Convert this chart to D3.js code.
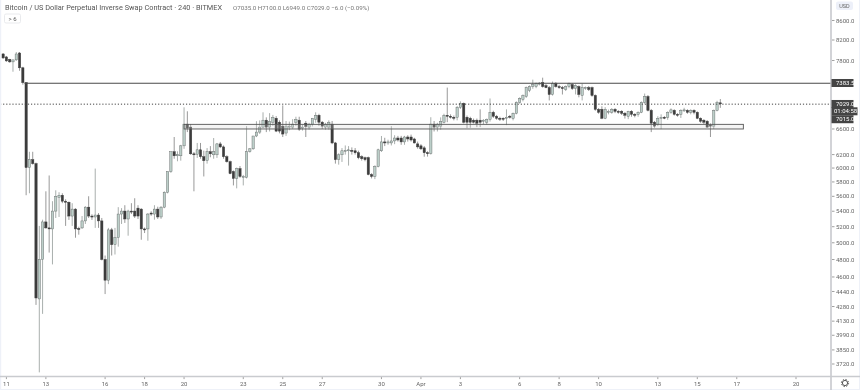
<!DOCTYPE html>
<html><head><meta charset="utf-8">
<script src="https://cdnjs.cloudflare.com/ajax/libs/d3/7.8.5/d3.min.js"></script>
<style>
html,body{margin:0;padding:0;background:#fff;overflow:hidden}
svg{display:block;filter:blur(.4px)}
text{font-family:Roboto,"Noto Sans",sans-serif}
</style></head><body>
<svg id="c" width="860" height="390"></svg>
<script>
const title="Bitcoin / US Dollar Perpetual Inverse Swap Contract · 240 · BITMEX";
const ohlcText="O7035.0  H7100.0  L6949.0  C7029.0  −6.0 (−0.09%)";
const opens=[7925,7868,7821,7774,7812,7944,7662,7390,6007,6124,
6065,4360,4801,5261,5185,5172,5402,5587,5615,5534,
5520,5337,5428,5178,5185,5274,5454,5337,5325,5350,
5274,4801,4564,5160,4977,5062,5363,5402,5299,5402,
5402,5441,5428,5172,5172,5376,5363,5428,5325,5454,
5656,5949,6243,6182,6182,6334,6678,6630,6212,6205,
6273,6168,6109,6243,6197,6197,6364,6318,6168,6094,
5949,5850,5992,5864,5864,6243,6288,6488,6550,6630,
6743,6630,6710,6775,6710,6646,6535,6630,6630,6710,
6743,6614,6694,6630,6678,6759,6825,6710,6630,6630,
6678,6379,6124,6197,6258,6258,6265,6258,6228,6168,
6153,6153,5906,5878,6021,6258,6395,6379,6379,6410,
6456,6456,6395,6472,6472,6441,6364,6334,6303,6228,
6215,6678,6630,6646,6710,6825,6808,6792,6792,6958,
7025,6792,6775,6743,6743,6743,6726,6710,6759,6874,
6808,6775,6775,6775,6808,6775,6858,7042,7093,7144,
7248,7319,7319,7372,7390,7337,7301,7179,7372,7319,
7301,7266,7319,7354,7284,7319,7162,7284,7301,7301,
7162,6924,6924,6775,6874,6874,6924,6891,6891,6858,
6808,6891,6841,6841,6874,7042,7144,6907,6710,6678,
6775,6792,6792,6874,6907,6841,6841,6907,6907,6874,
6907,6874,6775,6743,6726,6662,6646,6907,7035];
const highs=[7944,7887,7831,7812,7963,7963,7681,7400,6243,6243,
6080,5210,5290,5669,5892,5534,5683,5656,5642,5560,
5530,5507,5440,5200,5337,5467,5601,5360,5992,5376,
5312,4847,5185,5185,5185,5454,5441,5480,5420,5507,
5574,5480,5440,5190,5376,5400,5480,5460,5467,5669,
5949,6243,6472,6250,6349,6958,6891,6678,6240,6379,
6379,6260,6300,6330,6456,6379,6395,6340,6190,6110,
5965,6007,6030,5900,6646,6300,6488,6726,6740,6874,
6790,6860,6830,6810,6740,6991,6730,6720,6760,6800,
6800,6670,6730,6700,6780,6874,6850,6730,6700,6740,
6730,6395,6220,6300,6340,6330,6310,6300,6260,6190,
6170,6170,5925,6040,6290,6488,6460,6430,6646,6500,
6490,6490,6490,6500,6510,6460,6400,6360,6330,6250,
6792,6730,6700,6790,6850,7301,6840,6820,6980,7060,
7040,6820,6800,6770,6770,6924,6760,6770,7110,6900,
6830,6800,6790,6924,6830,6870,7060,7130,7180,7320,
7340,7444,7390,7400,7480,7365,7330,7410,7400,7350,
7330,7340,7390,7380,7360,7340,7372,7320,7330,7320,
7180,6945,6975,6960,6920,6945,6945,6910,6910,6880,
6900,6910,6860,6890,7060,7196,7170,6930,6730,6808,
6840,6810,6890,6940,6925,6860,6925,6950,6925,6925,
6925,6890,6790,6760,6745,6690,6920,7070,7100];
const lows=[7831,7774,7756,7589,7793,7607,7354,5615,5642,6050,
4297,3645,4204,5175,4882,4743,5312,5325,5507,5210,
5287,5210,5062,5100,5172,5235,5312,5287,5185,5185,
4790,4412,4520,4847,4859,4953,5235,5248,5087,5363,
5312,5299,5037,5120,5025,5340,5290,5300,5300,5440,
5640,5930,6138,6100,6109,6288,6550,6197,5669,6150,
6138,5878,6065,6160,6138,6150,6300,6138,6080,5910,
5751,5710,5860,5751,5850,6230,6273,6470,6520,6615,
6550,6560,6650,6550,6530,6472,6490,6580,6600,6650,
6570,6575,6472,6590,6640,6700,6650,6600,6590,6590,
6360,6065,6050,6090,6200,6036,6200,6200,6130,6110,
6100,5895,5850,5840,6010,6240,6330,6350,6340,6360,
6400,6350,6350,6400,6400,6370,6290,6270,6168,6170,
6200,6560,6560,6590,6690,6710,6770,6740,6740,6930,
6690,6614,6620,6690,6630,6630,6680,6670,6720,6780,
6750,6730,6730,6662,6770,6740,6840,7020,7060,7120,
7220,7280,7290,7340,7300,7290,7076,7160,7300,7280,
7179,7240,7290,7260,7180,7130,7076,7260,7240,7140,
6900,6850,6760,6760,6840,6850,6860,6850,6830,6770,
6760,6800,6790,6800,6860,7020,6890,6550,6620,6646,
6598,6760,6750,6850,6820,6800,6780,6880,6850,6840,
6840,6760,6700,6680,6620,6472,6600,6890,6949];
const closes=[7849,7793,7774,7812,7925,7662,7390,6007,6124,6065,
4370,4801,5261,5185,5172,5402,5601,5615,5534,5520,
5337,5428,5172,5165,5274,5454,5337,5325,5350,5274,
4801,4564,5160,4977,5062,5363,5402,5299,5402,5389,
5337,5337,5172,5165,5363,5363,5428,5325,5454,5656,
5949,6243,6182,6200,6334,6678,6614,6212,6205,6273,
6168,6109,6243,6212,6243,6364,6318,6168,6094,5920,
5850,5992,5878,5878,6243,6288,6488,6550,6630,6743,
6630,6726,6792,6566,6566,6519,6646,6646,6678,6759,
6598,6630,6640,6678,6775,6825,6710,6646,6678,6710,
6379,6124,6197,6258,6265,6273,6250,6228,6153,6138,
6124,5906,5878,6021,6273,6395,6379,6395,6410,6456,
6425,6395,6472,6441,6425,6379,6318,6288,6228,6215,
6678,6630,6678,6726,6825,6808,6792,6775,6958,7025,
6710,6710,6710,6710,6694,6710,6743,6759,6874,6808,
6775,6759,6759,6792,6792,6858,7042,7110,7162,7301,
7319,7354,7372,7381,7319,7301,7179,7372,7319,7301,
7284,7319,7372,7284,7337,7179,7301,7301,7266,7162,
6924,6874,6775,6924,6890,6924,6891,6874,6858,6825,
6891,6841,6825,6874,7042,7144,6907,6694,6646,6775,
6792,6784,6874,6915,6841,6832,6907,6915,6874,6907,
6874,6775,6726,6710,6630,6646,6907,7042,7029];
const priceTicks=[8600,8200,7800,6600,6200,6000,5800,5600,5400,5200,5000,4800,4600,4440,4280,4130,3990,3850,3720];
const timeTickDates=["2020-03-11","2020-03-13","2020-03-16","2020-03-18","2020-03-20","2020-03-23","2020-03-25","2020-03-27","2020-03-30","2020-04-01","2020-04-03","2020-04-06","2020-04-08","2020-04-10","2020-04-13","2020-04-15","2020-04-17","2020-04-20"];
const timeTickLabels=["11","13","16","18","20","23","25","27","30","Apr","3","6","8","10","13","15","17","20"];
const resistance=7383.5, lastPrice=7029.0, zoneTop=6675, zoneBottom=6600;
const lineStart="2020-03-11T22:00Z", zoneStart="2020-03-20T00:00Z", zoneEnd="2020-04-17T08:00Z";
const priceBoxes=[["7383.5",7383.5,0],["7029.0",7015,0],["01:04:58",6891,1],["7015.0",6759,0]];

const svg=d3.select("#c");
const H=4*3600e3;
const t0=Date.UTC(2020,2,10,20);
const tA=Date.UTC(2020,2,11), tB=Date.UTC(2020,3,20);
const x=d3.scaleUtc().domain([new Date(tA),new Date(tB)]).range([6.4,796]);
const y=d3.scaleLog().domain([3720,8200]).range([364,40]);
const tx=i=>x(new Date(t0+i*H));
const paneR=831, paneB=376.5;

svg.append("rect").attr("width",860).attr("height",390).attr("fill","#fff");
svg.append("defs").append("clipPath").attr("id","p").append("rect").attr("width",paneR).attr("height",paneB);
const pane=svg.append("g").attr("clip-path","url(#p)");

const idx=d3.range(opens.length);
const cw=2.3;
pane.append("g").selectAll("line").data(idx).join("line")
 .attr("x1",tx).attr("x2",tx)
 .attr("y1",i=>y(highs[i])).attr("y2",i=>y(lows[i]))
 .attr("stroke",i=>closes[i]>=opens[i]?"#a9afad":"#999").attr("stroke-width",1);
pane.append("g").selectAll("rect").data(idx).join("rect")
 .attr("x",i=>tx(i)-cw/2).attr("width",cw)
 .attr("y",i=>Math.min(y(opens[i]),y(closes[i])))
 .attr("height",i=>Math.max(1,Math.abs(y(opens[i])-y(closes[i]))))
 .attr("fill",i=>closes[i]>=opens[i]?"#bccfc9":"#3c3c3c")
 .attr("stroke",i=>closes[i]>=opens[i]?"#666b6a":"#3c3c3c").attr("stroke-width",.45);

// drawings
pane.append("line").attr("x1",x(new Date(lineStart))).attr("x2",paneR)
 .attr("y1",y(resistance)+.3).attr("y2",y(resistance)+.3).attr("stroke","#4a4a4a").attr("stroke-width",1.1);
pane.append("line").attr("x1",0).attr("x2",paneR)
 .attr("y1",y(lastPrice)+1).attr("y2",y(lastPrice)+1).attr("stroke","#444").attr("stroke-width",1).attr("stroke-dasharray","1.2 1.9");
pane.append("rect").attr("x",x(new Date(zoneStart))).attr("width",x(new Date(zoneEnd))-x(new Date(zoneStart)))
 .attr("y",y(zoneTop)).attr("height",y(zoneBottom)-y(zoneTop))
 .attr("fill","#d8d8d8").attr("fill-opacity",.25).attr("stroke","#555").attr("stroke-width",.9);

// frame
svg.append("rect").attr("x",0).attr("y",0).attr("width",1.2).attr("height",390).attr("fill","#eef1f8");
svg.append("rect").attr("x",859).attr("y",0).attr("width",1).attr("height",390).attr("fill","#eef1f8");
svg.append("rect").attr("x",0).attr("y",389).attr("width",860).attr("height",1).attr("fill","#eef1f8");
svg.append("line").attr("x1",paneR).attr("x2",paneR).attr("y1",0).attr("y2",390).attr("stroke","#bfc1c6").attr("stroke-width",1.4);
svg.append("line").attr("x1",0).attr("x2",860).attr("y1",paneB).attr("y2",paneB).attr("stroke","#c9cbcf").attr("stroke-width",1.4);

// price axis
const ya=svg.append("g");
priceTicks.forEach(p=>{
 ya.append("line").attr("x1",paneR+1).attr("x2",paneR+3.5).attr("y1",y(p)).attr("y2",y(p)).attr("stroke","#777").attr("stroke-width",.7);
 ya.append("text").attr("x",paneR+5).attr("y",y(p)+2.1).attr("font-size",6).attr("fill","#666").text(d3.format(".1f")(p));
});
// time axis
timeTickDates.forEach((d,i)=>{
 const px=x(new Date(d+"T00:00Z"));
 svg.append("line").attr("x1",px).attr("x2",px).attr("y1",paneB+.7).attr("y2",paneB+2.6).attr("stroke","#777").attr("stroke-width",.7);
 svg.append("text").attr("x",px).attr("y",386).attr("text-anchor","middle").attr("font-size",6).attr("fill","#666").text(timeTickLabels[i]);
});
// price boxes
priceBoxes.forEach(([t,p,wide])=>{
 const yy=y(p);
 svg.append("rect").attr("x",paneR+.5).attr("y",yy-4).attr("width",wide?26:22).attr("height",8).attr("fill","#444");
 svg.append("text").attr("x",paneR+(wide?3:5)).attr("y",yy+2.1).attr("font-size",6).attr("fill","#fff").text(t);
});
// USD badge
svg.append("rect").attr("x",836).attr("y",1.5).attr("width",17).attr("height",8.5).attr("rx",2).attr("fill","#edf0f9");
svg.append("text").attr("x",844.5).attr("y",8).attr("text-anchor","middle").attr("font-size",5.5).attr("fill","#666").text("USD");

// header
svg.append("text").attr("x",5).attr("y",10).attr("font-size",7.35).attr("fill","#555").text(title);
svg.append("text").attr("x",233).attr("y",9.8).attr("font-size",6.2).attr("fill","#777").text(ohlcText);
svg.append("rect").attr("x",4.5).attr("y",14).attr("width",16).attr("height",9).attr("rx",1.5).attr("fill","#fff").attr("stroke","#e3e4e8").attr("stroke-width",.8);
svg.append("text").attr("x",12.5).attr("y",20.8).attr("text-anchor","middle").attr("font-size",6).attr("fill","#555").text("> 6");

// gear
const g=svg.append("g").attr("transform","translate(845,383)");
g.append("circle").attr("r",2.6).attr("fill","none").attr("stroke","#555").attr("stroke-width",1);
g.append("circle").attr("r",3.6).attr("fill","none").attr("stroke","#555").attr("stroke-width",1).attr("stroke-dasharray","1.4 1.43");
</script>
</body></html>
